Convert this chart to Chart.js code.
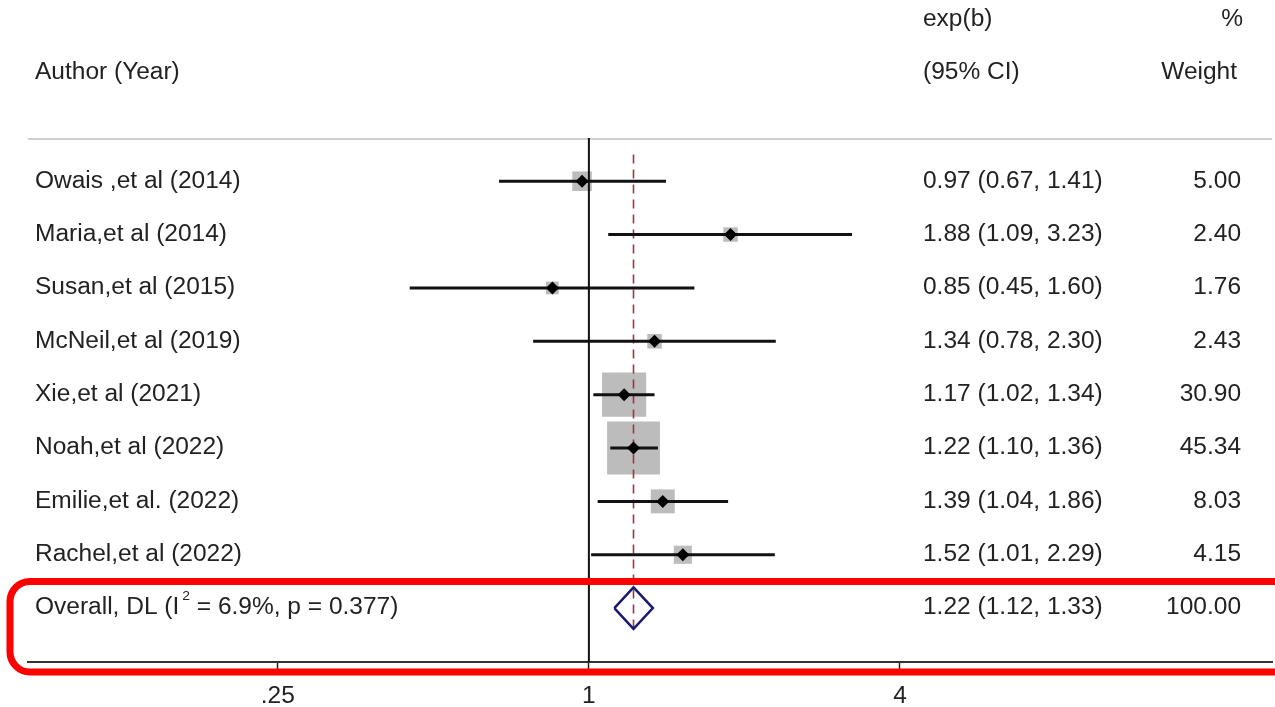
<!DOCTYPE html>
<html>
<head>
<meta charset="utf-8">
<script src="https://cdn.jsdelivr.net/npm/chart.js@4"></script>
<style>
  html, body { margin: 0; padding: 0; background: #fff; }
  #wrap { width: 1275px; height: 707px; }
</style>
</head>
<body>
<div id="wrap"><canvas id="forest"></canvas></div>
<script>
// study data
var authors = ["Owais ,et al (2014)", "Maria,et al (2014)", "Susan,et al (2015)", "McNeil,et al (2019)",
               "Xie,et al (2021)", "Noah,et al (2022)", "Emilie,et al. (2022)", "Rachel,et al (2022)"];
var est    = [0.97, 1.88, 0.85, 1.34, 1.17, 1.22, 1.39, 1.52];
var lower  = [0.67, 1.09, 0.45, 0.78, 1.02, 1.10, 1.04, 1.01];
var upper  = [1.41, 3.23, 1.60, 2.30, 1.34, 1.36, 1.86, 2.29];
var weight = [5.00, 2.40, 1.76, 2.43, 30.90, 45.34, 8.03, 4.15];

// pooled estimate
var overallLabel = ["Overall, DL (I", "2", " = 6.9%, p = 0.377)"];
var overall = { est: 1.22, lo: 1.12, hi: 1.33, weight: 100.00 };

var xTicks = [0.25, 1, 4];
var xTickLabels = [".25", "1", "4"];

var FAMILY = '"Liberation Sans", Arial, sans-serif';
var FONT = '23px ' + FAMILY;
var TXT = '#222';
var SX = 1.065; // the source text is a little wide
var nRows = authors.length + 1;

var rows = authors.map(function(a, i) { return i + 1; });

var ciData = [];
rows.forEach(function(r, i) {
    ciData.push({x: lower[i], y: r}, {x: upper[i], y: r}, {x: null, y: null});
});

var oy = nRows, oh = 0.39;

function txt(ctx, s, x, y, align) {
    ctx.save();
    ctx.translate(x, y);
    ctx.scale(SX, 1);
    ctx.textAlign = align || 'left';
    ctx.fillText(s, 0, 0);
    ctx.restore();
}

// draw the text columns, header, separators and the highlight box
var tablePlugin = {
    id: 'table',
    beforeDatasetsDraw: function(chart) {
        var ctx = chart.ctx, a = chart.chartArea;
        ctx.save();
        ctx.strokeStyle = '#cfcfcf';
        ctx.lineWidth = 2;
        ctx.beginPath();
        ctx.moveTo(a.left, a.top + 1);
        ctx.lineTo(a.right, a.top + 1);
        ctx.stroke();
        ctx.restore();
    },
    afterDraw: function(chart) {
        var ctx = chart.ctx, a = chart.chartArea;
        var ys = chart.scales.y, xs = chart.scales.x;
        ctx.save();
        ctx.font = FONT;
        ctx.fillStyle = TXT;
        ctx.textBaseline = 'middle';

        // header
        txt(ctx, 'exp(b)', 923, 20);
        txt(ctx, 'Author (Year)', 35, 73);
        txt(ctx, '(95% CI)', 923, 73);
        txt(ctx, '%', 1243, 20, 'right');
        txt(ctx, 'Weight', 1237, 73, 'right');

        // study rows
        rows.forEach(function(r, i) {
            var y = ys.getPixelForValue(r);
            txt(ctx, authors[i], 35, y);
            txt(ctx, est[i].toFixed(2) + ' (' + lower[i].toFixed(2) + ', ' + upper[i].toFixed(2) + ')', 923, y);
            txt(ctx, weight[i].toFixed(2), 1241, y, 'right');
        });

        // overall row
        var y = ys.getPixelForValue(oy);
        txt(ctx, overallLabel[0], 35, y);
        var x = 35 + ctx.measureText(overallLabel[0]).width * SX + 3;
        ctx.font = '13px ' + FAMILY;
        txt(ctx, overallLabel[1], x, y - 12);
        x += ctx.measureText(overallLabel[1]).width * SX;
        ctx.font = FONT;
        txt(ctx, overallLabel[2], x, y);
        txt(ctx, overall.est.toFixed(2) + ' (' + overall.lo.toFixed(2) + ', ' + overall.hi.toFixed(2) + ')', 923, y);
        txt(ctx, overall.weight.toFixed(2), 1241, y, 'right');

        // x tick labels
        xTicks.forEach(function(v, k) {
            txt(ctx, xTickLabels[k], xs.getPixelForValue(v), a.bottom + 35, 'center');
        });

        // red highlight around the overall row
        var top = ys.getPixelForValue(oy - 0.5);
        ctx.strokeStyle = '#ff0000';
        ctx.lineWidth = 7;
        ctx.beginPath();
        ctx.roundRect(10, top, 1300, a.bottom + 10 - top, 20);
        ctx.stroke();
        ctx.restore();
    }
};

var ctx = document.getElementById('forest').getContext('2d');
var chart = new Chart(ctx, {
    type: 'scatter',
    data: {
        datasets: [
            {
                // study markers
                data: rows.map(function(r, i) { return {x: est[i], y: r}; }),
                pointStyle: 'rectRot',
                pointRadius: 6.5,
                backgroundColor: '#000',
                borderWidth: 0,
                order: 1
            },
            {
                // pooled diamond
                data: [{x: overall.lo, y: oy}, {x: overall.est, y: oy - oh}, {x: overall.hi, y: oy},
                       {x: overall.est, y: oy + oh}, {x: overall.lo, y: oy}],
                showLine: true,
                borderColor: '#1a1a6e',
                borderWidth: 2.5,
                borderJoinStyle: 'miter',
                pointRadius: 0,
                order: 2
            },
            {
                // confidence intervals
                data: ciData,
                showLine: true,
                spanGaps: false,
                borderColor: '#111',
                borderWidth: 3,
                pointRadius: 0,
                order: 3
            },
            {
                // pooled estimate reference
                data: [{x: overall.est, y: 0.5}, {x: overall.est, y: nRows + 0.45}],
                showLine: true,
                borderColor: '#a8323e',
                borderWidth: 1.6,
                borderDash: [9, 6],
                pointRadius: 0,
                order: 4
            },
            {
                // null line
                data: [{x: 1, y: 0}, {x: 1, y: 11}],
                showLine: true,
                borderColor: '#111',
                borderWidth: 2,
                pointRadius: 0,
                order: 5
            },
            {
                // weight boxes
                data: rows.map(function(r, i) { return {x: est[i], y: r}; }),
                pointStyle: 'rect',
                pointRadius: weight.map(function(w) { return (7.4 * Math.sqrt(w) + 3) / Math.SQRT2; }),
                backgroundColor: '#bcbcbc',
                borderWidth: 0,
                order: 6
            }
        ]
    },
    options: {
        responsive: true,
        maintainAspectRatio: false,
        animation: false,
        events: [],
        layout: { autoPadding: false, padding: { left: 28, right: 3, top: 138, bottom: 0 } },
        plugins: { legend: { display: false }, tooltip: { enabled: false } },
        scales: {
            x: {
                type: 'logarithmic',
                min: 0.0821,
                max: 21.0,
                afterBuildTicks: function(s) {
                    s.ticks = xTicks.map(function(v) { return {value: v}; });
                },
                afterFit: function(s) { s.height = 45; },
                grid: { drawOnChartArea: false, drawTicks: true, tickLength: 10, tickColor: '#222', tickWidth: 1.5 },
                border: { display: true, color: '#333', width: 2 },
                ticks: {
                    autoSkip: false,
                    maxRotation: 0,
                    color: 'rgba(0,0,0,0)',
                    font: { family: FAMILY, size: 23 },
                    callback: function(v) {
                        var k = xTicks.indexOf(v);
                        return k >= 0 ? xTickLabels[k] : '';
                    }
                }
            },
            y: {
                type: 'linear',
                reverse: true,
                min: 0.19,
                max: 10.01,
                display: false
            }
        }
    },
    plugins: [tablePlugin]
});
</script>
</body>
</html>
